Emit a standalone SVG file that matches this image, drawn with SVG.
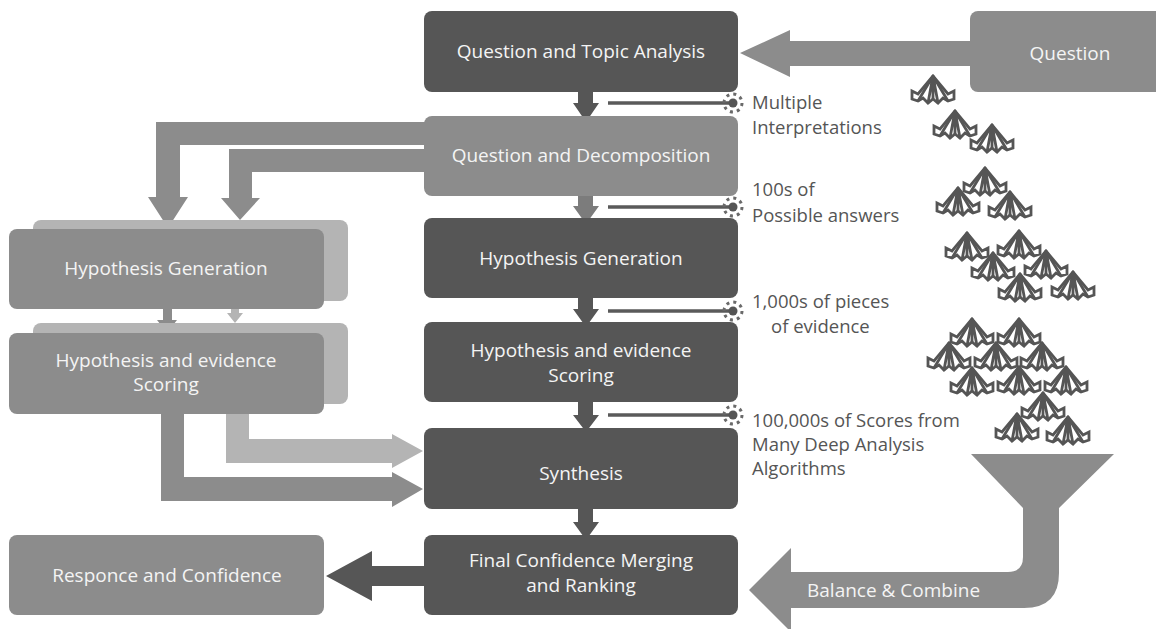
<svg xmlns="http://www.w3.org/2000/svg" xmlns:xlink="http://www.w3.org/1999/xlink" width="1156" height="629" viewBox="0 0 1156 629">
  <style>
    .dark { fill: #565656; }
    .mid { fill: #8c8c8c; }
    .light { fill: #b4b4b4; }
    .box-text { font-family: "Open Sans", "Liberation Sans", sans-serif; font-size: 19px; fill: #f4f4f4; text-anchor: middle; }
    .note { font-family: "Open Sans", "Liberation Sans", sans-serif; font-size: 18.5px; fill: #555555; }
    .tap { stroke: #5a5a5a; stroke-width: 3.5; fill: none; }
    .flake { stroke: #555555; stroke-width: 2.8; fill: none; stroke-linejoin: miter; stroke-linecap: butt; }
  </style>
  <defs>
    <!-- burst at the end of each tap line -->
    <marker id="burst" markerUnits="userSpaceOnUse" markerWidth="24" markerHeight="24" refX="12" refY="12" orient="0" viewBox="0 0 24 24">
      <circle cx="12" cy="12" r="9" fill="none" stroke="#6a6a6a" stroke-width="3" stroke-dasharray="3 4.07"/>
      <circle cx="12" cy="12" r="4.5" fill="#555555"/>
    </marker>
    <!-- item glyph that falls into the funnel -->
    <g id="flake" class="flake">
      <path d="M0,-2 L-15,16 L-21,13 L-21,21 L-15,23 L-10,20 L-5,25 L0,21 L5,25 L10,20 L15,23 L21,21 L21,13 L15,16 Z"/>
      <path d="M0,-2 L-15,23 M0,-2 L-5,25 M0,-2 L0,21 M0,-2 L5,25 M0,-2 L15,23"/>
    </g>
  </defs>

  <rect width="1156" height="629" fill="#ffffff"/>

  <!-- connectors -->
  <g id="connectors">
    <!-- Question -> Question and Topic Analysis -->
    <path class="mid" d="M975,41 L790,41 L790,30 L740,53 L790,77 L790,66 L975,66 Z"/>
    <!-- Decomposition -> left Hypothesis Generation (two feeds) -->
    <path class="mid" d="M430,122 L156,122 L156,197 L148,197 L168,228 L188,197 L180,197 L180,145 L430,145 Z"/>
    <path class="mid" d="M430,149 L229,149 L229,198 L221,198 L240,220 L260,198 L252,198 L252,172 L430,172 Z"/>
    <!-- left Generation -> left Scoring -->
    <path class="light" d="M231,300 L239,300 L239,313 L243,313 L235,323 L227,313 L231,313 Z"/>
    <path class="mid" d="M163,305 L172,305 L172,320 L177,320 L167,333 L157,320 L163,320 Z"/>
    <!-- left Scoring -> Synthesis -->
    <path class="light" d="M226,400 L249,400 L249,439 L392,439 L392,434 L423,451 L392,468 L392,463 L226,463 Z"/>
    <path class="mid" d="M161,410 L184,410 L184,477 L392,477 L392,472 L423,489 L392,507 L392,501 L161,501 Z"/>
    <!-- centre column flow -->
    <path class="dark" d="M578,90 L593,90 L593,103 L599,103 L586,122 L573,103 L578,103 Z"/>
    <path fill="#7c7c7c" d="M578,194 L593,194 L593,206 L599,206 L586,224 L573,206 L578,206 Z"/>
    <path class="dark" d="M578,296 L593,296 L593,309 L599,309 L586,327 L573,309 L578,309 Z"/>
    <path class="dark" d="M578,400 L593,400 L593,415 L599,415 L586,432 L573,415 L578,415 Z"/>
    <path class="dark" d="M578,507 L593,507 L593,522 L599,522 L586,540 L573,522 L578,522 Z"/>
    <!-- tap lines with bursts -->
    <line class="tap" x1="608" y1="103" x2="733" y2="103" marker-end="url(#burst)"/>
    <line class="tap" x1="608" y1="207" x2="733" y2="207" marker-end="url(#burst)"/>
    <line class="tap" x1="608" y1="311" x2="733" y2="311" marker-end="url(#burst)"/>
    <line class="tap" x1="608" y1="415" x2="733" y2="415" marker-end="url(#burst)"/>
    <!-- Final -> Responce -->
    <path class="dark" d="M430,566 L372,566 L372,551 L326,576 L372,601 L372,586 L430,586 Z"/>
    <!-- funnel bending into Balance & Combine arrow -->
    <path class="mid" d="M971,454 L1114,454 L1059,508 L1059,573 Q1059,608 1024,608 L791,608 L791,632 L749,590 L791,548 L791,572 L1008,572 Q1023,572 1023,557 L1023,508 Z"/>
    <text class="box-text" x="807" y="597" style="text-anchor:start">Balance &amp; Combine</text>
  </g>

  <!-- centre column -->
  <g id="topic-analysis">
    <rect class="dark" x="424" y="11" width="314" height="81" rx="8"/>
    <text class="box-text" x="581" y="58">Question and Topic Analysis</text>
  </g>
  <g id="question">
    <rect class="mid" x="970" y="11" width="200" height="81" rx="8"/>
    <text class="box-text" x="1070" y="60">Question</text>
  </g>
  <g id="decomposition">
    <rect class="mid" x="424" y="116" width="314" height="80" rx="8"/>
    <text class="box-text" x="581" y="162">Question and Decomposition</text>
  </g>
  <g id="generation">
    <rect class="dark" x="424" y="218" width="314" height="80" rx="8"/>
    <text class="box-text" x="581" y="265">Hypothesis Generation</text>
  </g>
  <g id="scoring">
    <rect class="dark" x="424" y="322" width="314" height="80" rx="8"/>
    <text class="box-text" x="581" y="357">Hypothesis and evidence</text>
    <text class="box-text" x="581" y="382">Scoring</text>
  </g>
  <g id="synthesis">
    <rect class="dark" x="424" y="428" width="314" height="81" rx="8"/>
    <text class="box-text" x="581" y="480">Synthesis</text>
  </g>
  <g id="final-merging">
    <rect class="dark" x="424" y="535" width="314" height="80" rx="8"/>
    <text class="box-text" x="581" y="567">Final Confidence Merging</text>
    <text class="box-text" x="581" y="592">and Ranking</text>
  </g>

  <!-- left stacks -->
  <g id="left-generation">
    <rect class="light" x="33" y="220" width="315" height="81" rx="8"/>
    <rect class="mid" x="9" y="229" width="315" height="80" rx="8"/>
    <text class="box-text" x="166" y="275">Hypothesis Generation</text>
  </g>
  <g id="left-scoring">
    <rect class="light" x="33" y="323" width="315" height="81" rx="8"/>
    <rect class="mid" x="9" y="333" width="315" height="81" rx="8"/>
    <text class="box-text" x="166" y="367">Hypothesis and evidence</text>
    <text class="box-text" x="166" y="391">Scoring</text>
  </g>
  <g id="response">
    <rect class="mid" x="9" y="535" width="315" height="80" rx="8"/>
    <text class="box-text" x="167" y="582">Responce and Confidence</text>
  </g>

  <!-- annotations -->
  <g id="notes">
    <text class="note" x="752" y="109">Multiple</text>
    <text class="note" x="752" y="134">Interpretations</text>
    <text class="note" x="752" y="196">100s of</text>
    <text class="note" x="752" y="222">Possible answers</text>
    <text class="note" x="752" y="308">1,000s of pieces</text>
    <text class="note" x="771" y="333">of evidence</text>
    <text class="note" x="752" y="427">100,000s of Scores from</text>
    <text class="note" x="752" y="451">Many Deep Analysis</text>
    <text class="note" x="752" y="475">Algorithms</text>
  </g>

  <!-- falling items -->
  <g id="items">
    <use xlink:href="#flake" transform="translate(933,78)"/>
    <use xlink:href="#flake" transform="translate(955,113)"/>
    <use xlink:href="#flake" transform="translate(992,127)"/>
    <use xlink:href="#flake" transform="translate(985,170)"/>
    <use xlink:href="#flake" transform="translate(958,190)"/>
    <use xlink:href="#flake" transform="translate(1010,194)"/>
    <use xlink:href="#flake" transform="translate(967,235)"/>
    <use xlink:href="#flake" transform="translate(1019,233)"/>
    <use xlink:href="#flake" transform="translate(993,255)"/>
    <use xlink:href="#flake" transform="translate(1046,253)"/>
    <use xlink:href="#flake" transform="translate(1020,276)"/>
    <use xlink:href="#flake" transform="translate(1073,274)"/>
    <use xlink:href="#flake" transform="translate(972,321)"/>
    <use xlink:href="#flake" transform="translate(1019,321)"/>
    <use xlink:href="#flake" transform="translate(949,345)"/>
    <use xlink:href="#flake" transform="translate(996,345)"/>
    <use xlink:href="#flake" transform="translate(1042,345)"/>
    <use xlink:href="#flake" transform="translate(972,370)"/>
    <use xlink:href="#flake" transform="translate(1019,369)"/>
    <use xlink:href="#flake" transform="translate(1066,369)"/>
    <use xlink:href="#flake" transform="translate(1043,395)"/>
    <use xlink:href="#flake" transform="translate(1017,416)"/>
    <use xlink:href="#flake" transform="translate(1068,419)"/>
  </g>
</svg>
